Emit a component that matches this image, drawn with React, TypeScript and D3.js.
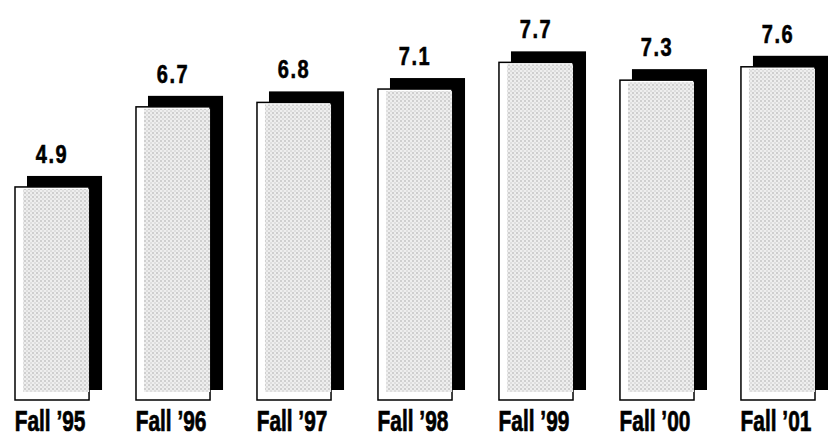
import React from 'react';
import * as d3 from 'd3';

const categories: string[] = ["Fall \u201995", "Fall \u201996", "Fall \u201997", "Fall \u201998", "Fall \u201999", "Fall \u201900", "Fall \u201901"];
const values: number[] = [4.9, 6.7, 6.8, 7.1, 7.7, 7.3, 7.6];

const W = 839;
const H = 443;

export default function App() {
  const x = d3.scaleBand<string>().domain(categories).range([15, 815]).paddingInner(0.388).paddingOuter(0);
  const y = d3.scaleLinear().domain([0, 8]).range([405, 49]);
  const base = 400;
  const bw = x.bandwidth();
  const fmt = d3.format('.1f');
  const font = "'Liberation Sans', Arial, Helvetica, sans-serif";

  return (
    <svg width={W} height={H} style={{ position: 'absolute', left: 0, top: 0, background: '#fff' }}>
      <defs>
        <pattern id="dots" width="4" height="4" patternUnits="userSpaceOnUse">
          <rect width="4" height="4" fill="#eeeeee" />
          <circle cx="1" cy="1" r="0.8" fill="#a9a9a9" />
          <circle cx="3" cy="3" r="0.7" fill="#c4c4c4" />
        </pattern>
      </defs>
      {categories.map((c, i) => {
        const x0 = x(c) as number;
        const yt = y(values[i]);
        const h = base - yt;
        return (
          <g key={c}>
            <rect x={x0 + 12} y={yt - 11} width={bw + 1} height={h + 1} fill="#000" />
            <rect x={x0} y={yt} width={bw} height={h} fill="#fff" stroke="#000" strokeWidth={1.5} />
            <rect x={x0 + 8} y={yt + 2} width={bw - 8} height={h - 10} fill="url(#dots)" />
            <g transform={`translate(${x0 + bw / 2},${yt - 24}) scale(0.8,1)`}>
              <text textAnchor="middle" fontFamily={font} fontWeight="bold" fontSize={25} letterSpacing={2} fill="#000" stroke="#000" strokeWidth={0.6}>
                {fmt(values[i])}
              </text>
            </g>
            <g transform={`translate(${x0 + bw / 2 - 2},431) scale(0.72,1)`}>
              <text textAnchor="middle" fontFamily={font} fontWeight="bold" fontSize={29} fill="#000" stroke="#000" strokeWidth={0.7}>
                {c}
              </text>
            </g>
          </g>
        );
      })}
    </svg>
  );
}
